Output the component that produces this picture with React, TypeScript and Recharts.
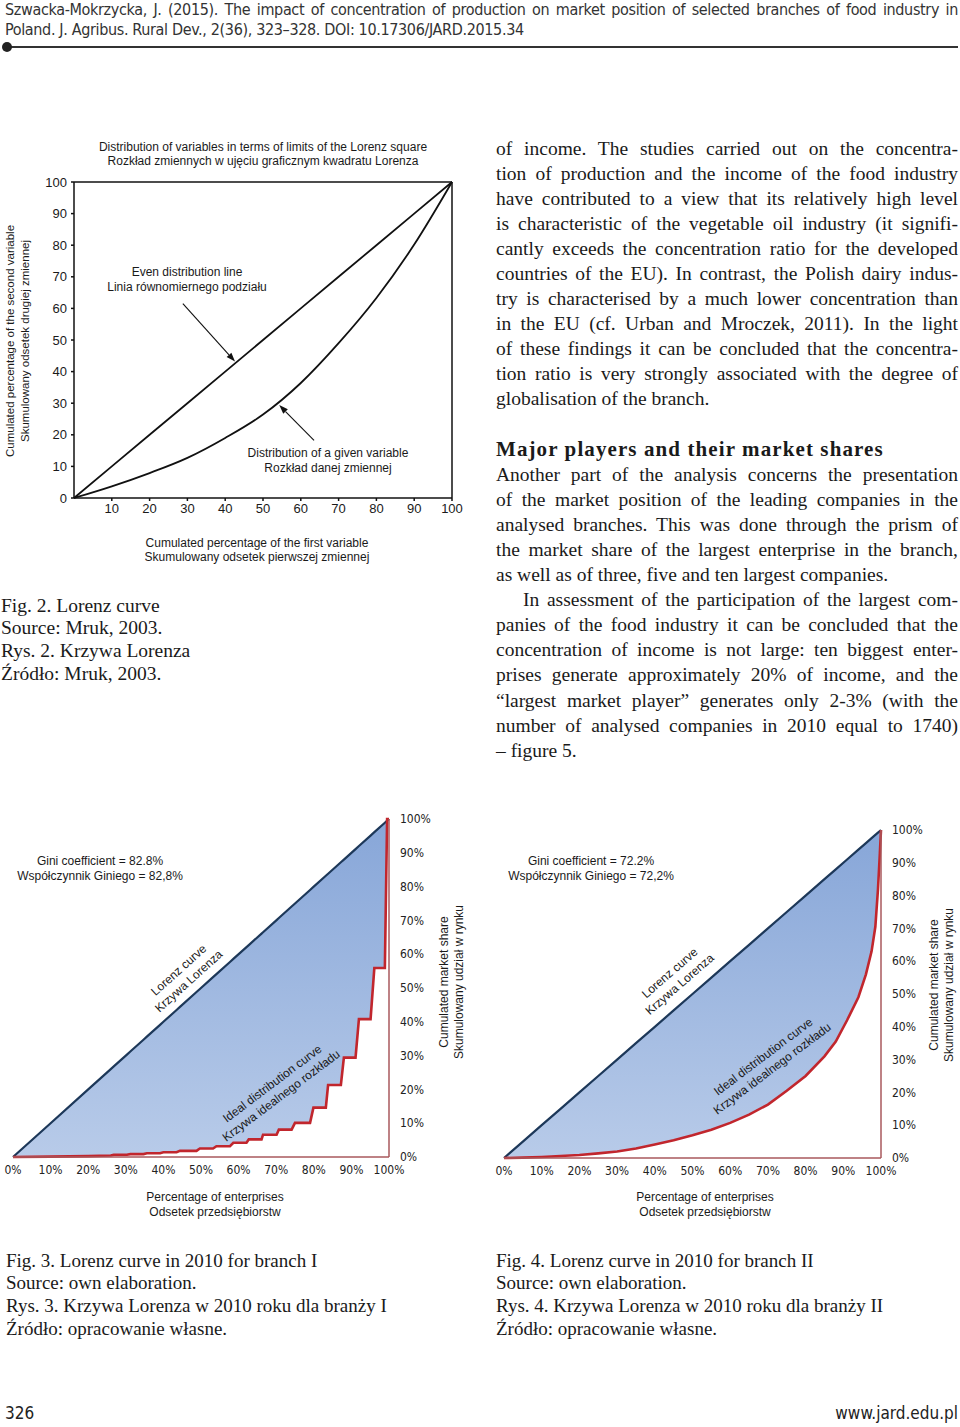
import React from "react";
import { ComposedChart, Line, Area, XAxis, YAxis, ReferenceLine } from "recharts";

// Fig. 2 – generic Lorenz square (Mruk, 2003)
const squareX = [0, 10, 20, 30, 40, 50, 60, 70, 80, 90, 100];
const squareEven = [0, 10, 20, 30, 40, 50, 60, 70, 80, 90, 100];
const squareGiven = [0, 3.7, 7.9, 12.7, 19, 26.4, 36.4, 49, 63.3, 80.2, 100];
const squareTicksX = [10, 20, 30, 40, 50, 60, 70, 80, 90, 100];
const squareTicksY = [0, 10, 20, 30, 40, 50, 60, 70, 80, 90, 100];
const evenArrow = [{ x: 28.8, y: 61.5 }, { x: 42.6, y: 43.2 }];
const givenArrow = [{ x: 63.5, y: 18.2 }, { x: 54.3, y: 29.4 }];

// Fig. 3 – branch I, cumulated market share (stepped)
const branch1X = [0, 10, 20, 26, 26.8, 30.3, 31.2, 34.7, 35.6, 39.1, 40, 43.5, 44.4, 48.8, 49.7, 53.2, 54.1, 57.7, 58.6, 62.1, 62.7, 66.1, 66.5, 70.1, 70.7, 74.1, 75, 79, 79.9, 83.2, 83.8, 87.2, 88, 91.1, 92, 95.1, 96.1, 98.9, 99.5, 100];
const branch1Share = [0, 0.1, 0.25, 0.45, 0.65, 0.65, 0.85, 0.85, 1.1, 1.1, 1.4, 1.4, 1.8, 1.8, 2.5, 2.5, 3.2, 3.2, 4.2, 4.2, 5.2, 5.2, 6.6, 6.6, 8.1, 8.1, 10.1, 10.1, 14.6, 14.6, 21.3, 21.3, 29.4, 29.4, 40.8, 40.8, 55.9, 55.9, 100, 100];

// Fig. 4 – branch II, cumulated market share
const branch2X = [0, 5, 10, 15, 20, 25, 30, 35, 40, 45, 50, 55, 60, 65, 70, 75, 80, 85, 88, 91, 94, 96, 97.5, 98.5, 99.2, 99.7, 100];
const branch2Share = [0, 0.1, 0.3, 0.6, 0.9, 1.4, 2.0, 2.9, 4.1, 5.4, 6.9, 8.6, 10.7, 13.2, 16.3, 20.5, 25, 31, 35.5, 42, 49, 56, 63, 70.5, 82, 93, 100];

const shareTicks = [0, 10, 20, 30, 40, 50, 60, 70, 80, 90, 100];

const SANS = "'Liberation Sans', Arial, sans-serif";
const NARROW = "'Liberation Sans Narrow', 'DejaVu Sans Condensed', 'Liberation Sans', sans-serif";
const SERIF = "'Liberation Serif', 'Times New Roman', serif";

// [text, justified]; null marks the section heading
const bodyLines: ([string, boolean] | null)[] = [
  ["of income. The studies carried out on the concentra-", true],
  ["tion of production and the income of the food industry", true],
  ["have contributed to a view that its relatively high level", true],
  ["is characteristic of the vegetable oil industry (it signifi-", true],
  ["cantly exceeds the concentration ratio for the developed", true],
  ["countries of the EU). In contrast, the Polish dairy indus-", true],
  ["try is characterised by a much lower concentration than", true],
  ["in the EU (cf. Urban and Mroczek, 2011). In the light", true],
  ["of these findings it can be concluded that the concentra-", true],
  ["tion ratio is very strongly associated with the degree of", true],
  ["globalisation of the branch.", false],
  ["", false],
  null,
  ["Another part of the analysis concerns the presentation", true],
  ["of the market position of the leading companies in the", true],
  ["analysed branches. This was done through the prism of", true],
  ["the market share of the largest enterprise in the branch,", true],
  ["as well as of three, five and ten largest companies.", false],
  ["In assessment of the participation of the largest com-", true],
  ["panies of the food industry it can be concluded that the", true],
  ["concentration of income is not large: ten biggest enter-", true],
  ["prises generate approximately 20% of income, and the", true],
  ["\u201Clargest market player\u201D generates only 2-3% (with the", true],
  ["number of analysed companies in 2010 equal to 1740)", true],
  ["\u2013 figure 5.", false],
];

const Txt = ({ x, y, lines, size = 12, lh, rotate = 0, family = SANS, color = "#1a1a1a" }: any) => (
  <div
    style={{
      position: "absolute",
      left: x,
      top: y,
      transform: `translate(-50%, -50%) rotate(${rotate}deg)`,
      fontFamily: family,
      fontSize: size,
      lineHeight: `${lh ?? Math.round(size * 1.2)}px`,
      whiteSpace: "nowrap",
      textAlign: "center",
      color,
    }}
  >
    {lines.map((l: string, i: number) => (
      <div key={i}>{l}</div>
    ))}
  </div>
);

const Arrow = (props: any) => {
  const { x1, y1, x2, y2 } = props;
  const a = Math.atan2(y2 - y1, x2 - x1);
  const len = 9;
  const w = 3.2;
  const bx = x2 - len * Math.cos(a);
  const by = y2 - len * Math.sin(a);
  const pts = `${x2},${y2} ${bx + w * Math.sin(a)},${by - w * Math.cos(a)} ${bx - w * Math.sin(a)},${by + w * Math.cos(a)}`;
  return (
    <g>
      <line x1={x1} y1={y1} x2={bx} y2={by} stroke="#111" strokeWidth={1.1} />
      <polygon points={pts} fill="#111" />
    </g>
  );
};

const squareData = squareX.map((x, i) => ({ x, even: squareEven[i], given: squareGiven[i] }));

function LorenzSquare() {
  const tick = { fontFamily: SANS, fontSize: 13, fill: "#1a1a1a" };
  return (
    <div style={{ position: "absolute", left: 0, top: 130 }}>
      <ComposedChart width={480} height={440} data={squareData} margin={{ top: 52, right: 28, bottom: 42, left: 44 }}>
        <XAxis
          type="number"
          dataKey="x"
          domain={[0, 100]}
          ticks={squareTicksX}
          interval={0}
          height={30}
          tick={tick}
          tickSize={3}
          tickMargin={3}
          stroke="#111"
          strokeWidth={1.5}
        />
        <YAxis
          type="number"
          domain={[0, 100]}
          ticks={squareTicksY}
          interval={0}
          width={30}
          tick={tick}
          tickSize={3}
          tickMargin={4}
          stroke="#111"
          strokeWidth={1.5}
        />
        <ReferenceLine y={100} stroke="#111" strokeWidth={1.5} />
        <ReferenceLine x={100} stroke="#111" strokeWidth={1.5} />
        <ReferenceLine segment={evenArrow} shape={Arrow} />
        <ReferenceLine segment={givenArrow} shape={Arrow} />
        <Line type="linear" dataKey="even" stroke="#111" strokeWidth={1.8} dot={false} isAnimationActive={false} />
        <Line type="monotone" dataKey="given" stroke="#111" strokeWidth={1.8} dot={false} isAnimationActive={false} />
      </ComposedChart>
    </div>
  );
}

function SharePanel({ xs, ys, left, top, width, margin, gradId }: any) {
  const data = xs.map((x: number, i: number) => ({ x, even: x, share: ys[i] }));
  const tick = { fontFamily: NARROW, fontSize: 12, fill: "#222" };
  return (
    <div style={{ position: "absolute", left, top }}>
      <ComposedChart width={width} height={420} data={data} margin={margin}>
        <defs>
          <linearGradient id={gradId} x1="0" y1="0" x2="0" y2="1">
            <stop offset="0%" stopColor="#87a6d8" />
            <stop offset="100%" stopColor="#b8cbe9" />
          </linearGradient>
        </defs>
        <XAxis
          type="number"
          dataKey="x"
          domain={[0, 100]}
          ticks={shareTicks}
          interval={0}
          height={25}
          tick={tick}
          tickLine={false}
          tickFormatter={(v: number) => `${v}%`}
          stroke="#a8585d"
          strokeWidth={1.5}
        />
        <YAxis
          type="number"
          orientation="right"
          domain={[0, 100]}
          ticks={shareTicks}
          interval={0}
          width={40}
          tick={{ ...tick, textAnchor: "start" }}
          tickLine={false}
          tickMargin={5}
          tickFormatter={(v: number) => `${v}%`}
          stroke="#a8585d"
          strokeWidth={1.5}
        />
        <Area
          type="linear"
          dataKey={(d: any) => [d.share, d.even]}
          fill={`url(#${gradId})`}
          fillOpacity={1}
          stroke="none"
          isAnimationActive={false}
        />
        <Line type="linear" dataKey="even" stroke="#1d3859" strokeWidth={2.2} dot={false} isAnimationActive={false} />
        <Line type="linear" dataKey="share" stroke="#c1262d" strokeWidth={2.6} dot={false} isAnimationActive={false} />
      </ComposedChart>
    </div>
  );
}

export default function App() {
  return (
    <div style={{ position: "absolute", left: 0, top: 0, width: 960, height: 1427, background: "#fff", overflow: "hidden" }}>
      {/* running header */}
      <div style={{ position: "absolute", left: 5, top: 0, width: 953, fontFamily: NARROW, fontSize: 16, letterSpacing: -0.35, lineHeight: "20px", color: "#333" }}>
        <div style={{ whiteSpace: "nowrap", textAlign: "justify", textAlignLast: "justify" }}>
          Szwacka-Mokrzycka, J. (2015). The impact of concentration of production on market position of selected branches of food industry in
        </div>
        <div style={{ whiteSpace: "nowrap" }}>Poland. J. Agribus. Rural Dev., 2(36), 323–328. DOI: 10.17306/JARD.2015.34</div>
      </div>
      <div style={{ position: "absolute", left: 6, top: 46, width: 952, height: 2, background: "#333" }} />
      <div style={{ position: "absolute", left: 2, top: 42, width: 10, height: 10, borderRadius: 5, background: "#222" }} />

      {/* Fig. 2 */}
      <LorenzSquare />
      <Txt x={263} y={154} size={12} lh={14} lines={["Distribution of variables in terms of limits of the Lorenz square", "Rozkład zmiennych w ujęciu graficznym kwadratu Lorenza"]} />
      <Txt x={187} y={280} size={12} lh={15} lines={["Even distribution line", "Linia równomiernego podziału"]} />
      <Txt x={328} y={461} size={12} lh={15} lines={["Distribution of a given variable", "Rozkład danej zmiennej"]} />
      <Txt x={257} y={550} size={12} lh={14} lines={["Cumulated percentage of the first variable", "Skumulowany odsetek pierwszej zmiennej"]} />
      <Txt x={18} y={341} size={11.5} lh={15} rotate={-90} lines={["Cumulated percentage of the second variable", "Skumulowany odsetek drugiej zmiennej"]} />

      <div style={{ position: "absolute", left: 1, top: 594.6, fontFamily: SERIF, fontSize: 19.5, lineHeight: "22.7px", color: "#1a1a1a", whiteSpace: "nowrap" }}>
        <div>Fig. 2. Lorenz curve</div>
        <div>Source: Mruk, 2003.</div>
        <div>Rys. 2. Krzywa Lorenza</div>
        <div>Źródło: Mruk, 2003.</div>
      </div>

      {/* body text */}
      <div style={{ position: "absolute", left: 496, top: 135.5, width: 462, height: 640, fontFamily: SERIF, fontSize: 19.5, lineHeight: "25.1px", color: "#1a1a1a" }}>
        {bodyLines.map((row, i) =>
          row === null ? (
            <div key={i} style={{ fontSize: 21, fontWeight: 700, letterSpacing: 1.1, whiteSpace: "nowrap" }}>
              Major players and their market shares
            </div>
          ) : (
            <div
              key={i}
              style={{
                whiteSpace: "nowrap",
                height: 25.1,
                textAlign: row[1] ? "justify" : "left",
                textAlignLast: row[1] ? "justify" : "left",
                paddingLeft: i === 18 ? 27 : 0,
              }}
            >
              {row[0]}
            </div>
          )
        )}
      </div>

      {/* Fig. 3 */}
      <SharePanel xs={branch1X} ys={branch1Share} left={0} top={800} width={480} margin={{ top: 19, right: 51, bottom: 38, left: 13 }} gradId="fill3" />
      <Txt x={100} y={869} lines={["Gini coefficient = 82.8%", "Współczynnik Giniego = 82,8%"]} lh={15} />
      <Txt x={184} y={976} rotate={-42} lh={15} lines={["Lorenz curve", "Krzywa Lorenza"]} />
      <Txt x={277} y={1090} rotate={-37} lh={15} lines={["Ideal distribution curve", "Krzywa idealnego rozkładu"]} />
      <Txt x={452} y={982} rotate={-90} lh={15} lines={["Cumulated market share", "Skumulowany udział w rynku"]} />
      <Txt x={215} y={1205} lh={15} lines={["Percentage of enterprises", "Odsetek przedsiębiorstw"]} />

      {/* Fig. 4 */}
      <SharePanel xs={branch2X} ys={branch2Share} left={488} top={810} width={472} margin={{ top: 20, right: 39, bottom: 47, left: 16 }} gradId="fill4" />
      <Txt x={591} y={869} lines={["Gini coefficient = 72.2%", "Współczynnik Giniego = 72,2%"]} lh={15} />
      <Txt x={675} y={979} rotate={-41} lh={15} lines={["Lorenz curve", "Krzywa Lorenza"]} />
      <Txt x={768} y={1063} rotate={-37} lh={15} lines={["Ideal distribution curve", "Krzywa idealnego rozkładu"]} />
      <Txt x={942} y={985} rotate={-90} lh={15} lines={["Cumulated market share", "Skumulowany udział w rynku"]} />
      <Txt x={705} y={1205} lh={15} lines={["Percentage of enterprises", "Odsetek przedsiębiorstw"]} />

      {/* captions */}
      <div style={{ position: "absolute", left: 6, top: 1249.6, fontFamily: SERIF, fontSize: 19, lineHeight: "22.7px", color: "#1a1a1a", whiteSpace: "nowrap" }}>
        <div>Fig. 3. Lorenz curve in 2010 for branch I</div>
        <div>Source: own elaboration.</div>
        <div>Rys. 3. Krzywa Lorenza w 2010 roku dla branży I</div>
        <div>Źródło: opracowanie własne.</div>
      </div>
      <div style={{ position: "absolute", left: 496, top: 1249.6, fontFamily: SERIF, fontSize: 19, lineHeight: "22.7px", color: "#1a1a1a", whiteSpace: "nowrap" }}>
        <div>Fig. 4. Lorenz curve in 2010 for branch II</div>
        <div>Source: own elaboration.</div>
        <div>Rys. 4. Krzywa Lorenza w 2010 roku dla branży II</div>
        <div>Źródło: opracowanie własne.</div>
      </div>

      {/* footer */}
      <div style={{ position: "absolute", left: 5, top: 1403, fontFamily: NARROW, fontSize: 17, lineHeight: "20px", color: "#222" }}>326</div>
      <div style={{ position: "absolute", right: 2, top: 1403, fontFamily: NARROW, fontSize: 17, lineHeight: "20px", color: "#222" }}>www.jard.edu.pl</div>
    </div>
  );
}
